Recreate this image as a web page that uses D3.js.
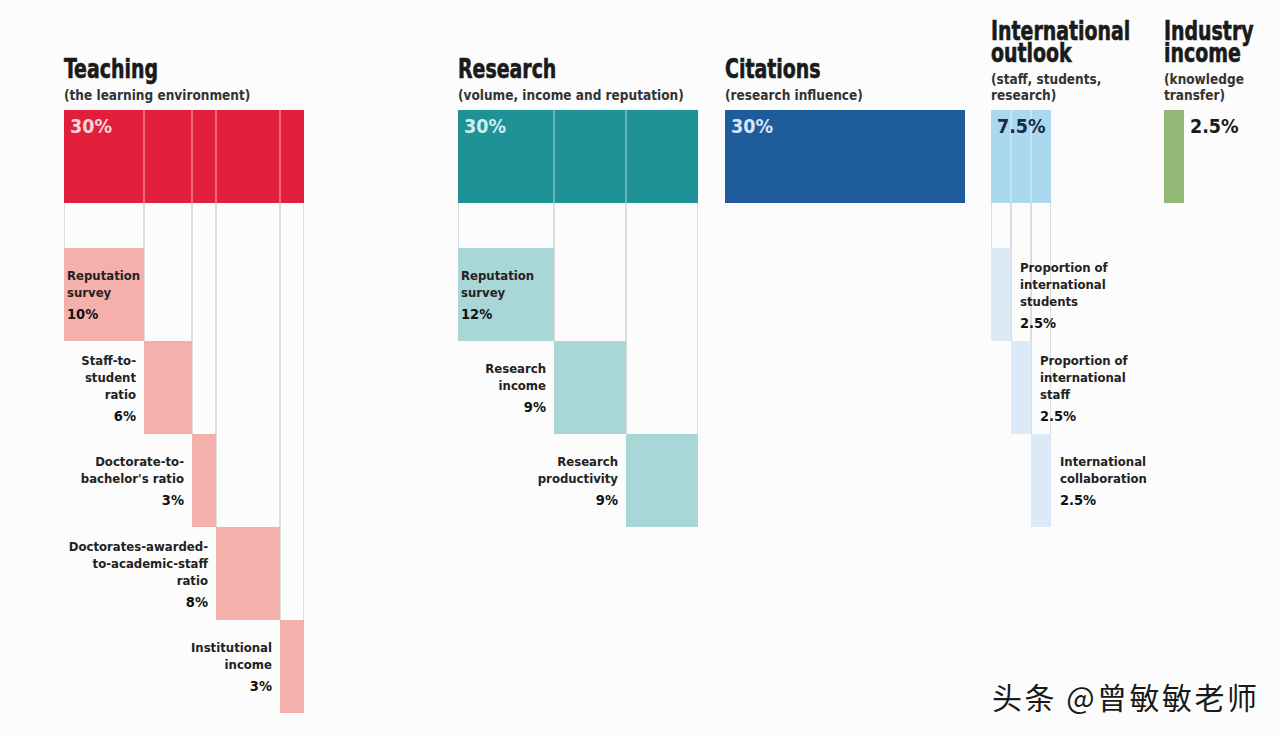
<!DOCTYPE html>
<html>
<head>
<meta charset="utf-8">
<script src="https://cdn.jsdelivr.net/npm/d3@7"></script>
<style>
  body { margin: 0; background: #fcfcfc; }
  svg { display: block; }
</style>
</head>
<body>
<div id="chart"></div>
<script>
// pillars
const pillars = ["teaching", "research", "citations", "international", "industry"];
const pillarTitles = [["Teaching"], ["Research"], ["Citations"], ["International", "outlook"], ["Industry", "income"]];
const pillarNotes = [["(the learning environment)"], ["(volume, income and reputation)"], ["(research influence)"], ["(staff, students,", "research)"], ["(knowledge", "transfer)"]];
const pillarWeights = [30, 30, 30, 7.5, 2.5];
const pillarLabels = ["30%", "30%", "30%", "7.5%", "2.5%"];

// metrics inside each pillar
const metricPillar = ["teaching", "teaching", "teaching", "teaching", "teaching",
    "research", "research", "research",
    "international", "international", "international"];
const metricNames = [
    ["Reputation", "survey"],
    ["Staff-to-", "student", "ratio"],
    ["Doctorate-to-", "bachelor's ratio"],
    ["Doctorates-awarded-", "to-academic-staff", "ratio"],
    ["Institutional", "income"],
    ["Reputation", "survey"],
    ["Research", "income"],
    ["Research", "productivity"],
    ["Proportion of", "international", "students"],
    ["Proportion of", "international", "staff"],
    ["International", "collaboration"]
];
const metricWeights = [10, 6, 3, 8, 3, 12, 9, 9, 2.5, 2.5, 2.5];
const metricLabels = ["10%", "6%", "3%", "8%", "3%", "12%", "9%", "9%", "2.5%", "2.5%", "2.5%"];

const width = 1280;
const height = 736;

const topColors = { teaching: "#e21f3a", research: "#1f9298", citations: "#1f5c9c", international: "#a9d8ef", industry: "#91b874" };
const subColors = { teaching: "#f4b0aa", research: "#a9d6d7", international: "#dce9f6" };
const topTextColors = { teaching: "#f8d6da", research: "#cdeeee", citations: "#d5e6f6", international: "#1a2a44", industry: "#1a1a1a" };

const bodyFont = "'DejaVu Sans Condensed', 'DejaVu Sans', sans-serif";

const svg = d3.select("#chart")
    .append("svg")
    .attr("width", width)
    .attr("height", height);

// one percent = 8px
const w = d3.scaleLinear().domain([0, 30]).range([0, 240]);
const colX = d3.scaleOrdinal().domain(pillars).range([64, 458, 725, 991, 1164]);
const topY = 110;
const rowH = 93;
const row = d3.scaleLinear().domain([0, 1]).range([248, 248 + rowH]);

// build metric records with cumulative offsets
const metrics = [];
const offsets = {};
const rowIdx = {};
metricPillar.forEach((p, i) => {
    const off = offsets[p] || 0;
    const r = rowIdx[p] || 0;
    metrics.push({ pillar: p, name: metricNames[i], weight: metricWeights[i], label: metricLabels[i], offset: off, row: r });
    offsets[p] = off + metricWeights[i];
    rowIdx[p] = r + 1;
});

// guide lines from top bar down to each sub-bar
const guides = svg.append("g").attr("stroke", "#dcdcdc").attr("stroke-width", 1);
metrics.forEach(m => {
    const x0 = colX(m.pillar) + w(m.offset);
    const x1 = x0 + w(m.weight);
    guides.append("line")
        .attr("x1", x0 + 0.5).attr("x2", x0 + 0.5)
        .attr("y1", topY + rowH).attr("y2", row(m.row));
    guides.append("line")
        .attr("x1", x1 - 0.5).attr("x2", x1 - 0.5)
        .attr("y1", topY + rowH).attr("y2", row(m.row + 1));
});

// top bars
const pillarData = pillars.map((p, i) => ({ key: p, title: pillarTitles[i], note: pillarNotes[i], weight: pillarWeights[i], label: pillarLabels[i] }));

svg.selectAll(".top-bar")
    .data(pillarData)
    .enter()
    .append("rect")
    .attr("class", "top-bar")
    .attr("x", d => colX(d.key))
    .attr("y", topY)
    .attr("width", d => w(d.weight))
    .attr("height", rowH)
    .attr("fill", d => topColors[d.key]);

// dividers inside top bars
svg.selectAll(".divider")
    .data(metrics.filter(m => m.offset > 0))
    .enter()
    .append("line")
    .attr("class", "divider")
    .attr("x1", d => colX(d.pillar) + w(d.offset))
    .attr("x2", d => colX(d.pillar) + w(d.offset))
    .attr("y1", topY)
    .attr("y2", topY + rowH)
    .attr("stroke", "rgba(255,255,255,0.45)")
    .attr("stroke-width", 1.5);

// top bar labels
svg.selectAll(".top-label")
    .data(pillarData)
    .enter()
    .append("text")
    .attr("class", "top-label")
    .attr("x", d => d.key === "industry" ? colX(d.key) + w(d.weight) + 6 : colX(d.key) + 6)
    .attr("y", topY + 23)
    .attr("font-family", bodyFont)
    .attr("font-weight", "bold")
    .attr("font-size", 19.5)
    .attr("fill", d => topTextColors[d.key])
    .text(d => d.label);

// headers
const headers = svg.selectAll(".header")
    .data(pillarData)
    .enter()
    .append("g")
    .attr("class", "header")
    .attr("transform", d => `translate(${colX(d.key)}, 0)`);

headers.each(function (d) {
    const g = d3.select(this);
    const noteLast = 100;
    const noteFirst = noteLast - 16 * (d.note.length - 1);
    const note = g.append("text")
        .attr("font-family", bodyFont)
        .attr("font-weight", "bold")
        .attr("font-size", 13.5)
        .attr("fill", "#333");
    d.note.forEach((t, i) => {
        note.append("tspan")
            .attr("x", 0)
            .attr("y", noteFirst + 16 * i)
            .text(t);
    });
    const titleLast = noteFirst - 22;
    const titleFirst = titleLast - 22 * (d.title.length - 1);
    const title = g.append("text")
        .attr("transform", "scale(0.81, 1)")
        .attr("font-family", bodyFont)
        .attr("font-weight", "bold")
        .attr("font-size", 26)
        .attr("fill", "#1a1a1a")
        .attr("stroke", "#1a1a1a")
        .attr("stroke-width", 0.6);
    d.title.forEach((t, i) => {
        title.append("tspan")
            .attr("x", 0)
            .attr("y", titleFirst + 22 * i)
            .text(t);
    });
});

// sub bars
svg.selectAll(".sub-bar")
    .data(metrics)
    .enter()
    .append("rect")
    .attr("class", "sub-bar")
    .attr("x", d => colX(d.pillar) + w(d.offset))
    .attr("y", d => row(d.row))
    .attr("width", d => w(d.weight))
    .attr("height", rowH)
    .attr("fill", d => subColors[d.pillar]);

// sub bar labels
svg.selectAll(".sub-label")
    .data(metrics)
    .enter()
    .append("g")
    .attr("class", "sub-label")
    .each(function (d) {
        const g = d3.select(this);
        const x0 = colX(d.pillar) + w(d.offset);
        const x1 = x0 + w(d.weight);
        let x, anchor;
        if (d.pillar === "international") { x = x1 + 9; anchor = "start"; }
        else if (d.row === 0) { x = x0 + 3; anchor = "start"; }
        else { x = x0 - 8; anchor = "end"; }
        const lineH = 17;
        const blockH = lineH * (d.name.length - 1) + 22;
        const first = row(d.row) + rowH / 2 - blockH / 2 + 5;
        const t = g.append("text")
            .attr("text-anchor", anchor)
            .attr("font-family", bodyFont)
            .attr("font-weight", "bold")
            .attr("fill", "#222");
        d.name.forEach((s, i) => {
            t.append("tspan")
                .attr("x", x)
                .attr("y", first + lineH * i)
                .attr("font-size", 13)
                .text(s);
        });
        t.append("tspan")
            .attr("x", x)
            .attr("y", first + lineH * (d.name.length - 1) + 22)
            .attr("font-size", 14.5)
            .attr("fill", "#111")
            .text(d.label);
    });

// watermark
svg.append("text")
    .attr("x", 992)
    .attr("y", 709)
    .attr("font-family", "'Noto Sans CJK SC', sans-serif")
    .attr("font-size", 30)
    .attr("letter-spacing", 2.5)
    .attr("fill", "#1a1a1a")
    .attr("stroke", "#ffffff")
    .attr("stroke-width", 2)
    .attr("paint-order", "stroke")
    .text("头条 @曾敏敏老师");
</script>
</body>
</html>
